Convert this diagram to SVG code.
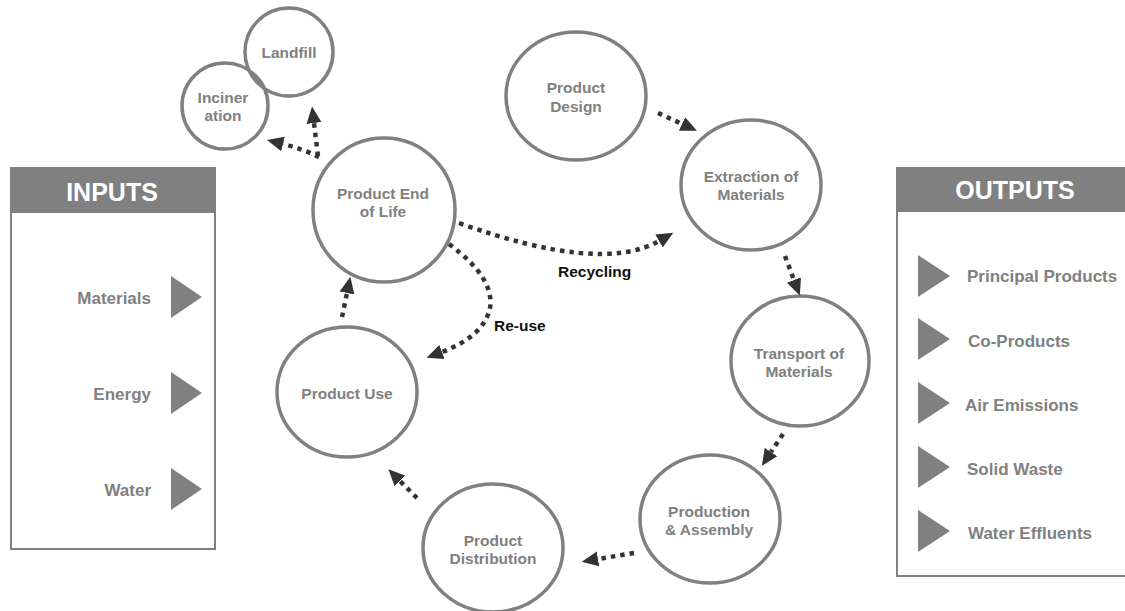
<svg xmlns="http://www.w3.org/2000/svg" width="1125" height="611" viewBox="0 0 1125 611">
<style>
.node ellipse{fill:#fff;stroke:#808080;stroke-width:3.5}
.node ellipse.open{fill:none}
.nt{font-family:"Liberation Sans",Arial,sans-serif;font-weight:bold;font-size:15.5px;fill:#808080;text-anchor:middle}
.lbl{font-family:"Liberation Sans",Arial,sans-serif;font-weight:bold;font-size:17px;fill:#808080}
.hdr{font-family:"Liberation Sans",Arial,sans-serif;font-weight:bold;font-size:25px;fill:#fff;text-anchor:middle}
.cl{font-family:"Liberation Sans",Arial,sans-serif;font-weight:bold;font-size:15.5px;fill:#111}
.tri{fill:#808080}
#connectors path{fill:none;stroke:#333;stroke-width:4.5;stroke-dasharray:4.5 5;marker-end:url(#ah)}
</style>
<defs>
<marker id="ah" markerUnits="userSpaceOnUse" markerWidth="17" markerHeight="16" refX="0" refY="8" orient="auto" viewBox="0 0 17 16">
<path d="M0,0.5 L16.5,8 L0,15.5 z" fill="#333"/>
</marker>
</defs>
<rect width="1125" height="611" fill="#fff"/>

<g id="inputs">
<rect x="11" y="168" width="204" height="381" fill="#fff" stroke="#808080" stroke-width="2"/>
<rect x="10" y="168" width="206" height="45" fill="#808080"/>
<text class="hdr" x="112" y="201">INPUTS</text>
<text class="lbl" x="151" y="304" text-anchor="end">Materials</text>
<polygon class="tri" points="171,276 202,297 171,318"/>
<text class="lbl" x="151" y="400" text-anchor="end">Energy</text>
<polygon class="tri" points="171,372 202,393 171,414"/>
<text class="lbl" x="151" y="496" text-anchor="end">Water</text>
<polygon class="tri" points="171,468 202,489 171,510"/>
</g>

<g id="outputs">
<rect x="897" y="168" width="240" height="408" fill="#fff" stroke="#808080" stroke-width="2"/>
<rect x="896" y="168" width="240" height="44" fill="#808080"/>
<text class="hdr" x="1015" y="199">OUTPUTS</text>
<polygon class="tri" points="918,255 950,276 918,297"/>
<text class="lbl" x="967" y="282">Principal Products</text>
<polygon class="tri" points="918,318 950,339 918,360"/>
<text class="lbl" x="968" y="347">Co-Products</text>
<polygon class="tri" points="918,382 950,403 918,424"/>
<text class="lbl" x="965" y="411">Air Emissions</text>
<polygon class="tri" points="918,446 950,467 918,488"/>
<text class="lbl" x="967" y="475">Solid Waste</text>
<polygon class="tri" points="918,510 950,531 918,552"/>
<text class="lbl" x="968" y="539">Water Effluents</text>
</g>

<g id="landfill" class="node">
<ellipse class="open" cx="289" cy="52" rx="44" ry="44"/>
<text class="nt" x="289" y="58">Landfill</text>
</g>
<g id="incineration" class="node">
<ellipse class="open" cx="225" cy="106" rx="43" ry="43"/>
<text class="nt" x="223" y="103">Inciner</text>
<text class="nt" x="223" y="121">ation</text>
</g>
<g id="endoflife" class="node">
<ellipse cx="384" cy="210" rx="71" ry="72"/>
<text class="nt" x="383" y="199">Product End</text>
<text class="nt" x="383" y="217">of Life</text>
</g>
<g id="design" class="node">
<ellipse cx="576" cy="96" rx="70" ry="64"/>
<text class="nt" x="576" y="93">Product</text>
<text class="nt" x="576" y="112">Design</text>
</g>
<g id="extraction" class="node">
<ellipse cx="751" cy="185" rx="70" ry="65"/>
<text class="nt" x="751" y="182">Extraction of</text>
<text class="nt" x="751" y="200">Materials</text>
</g>
<g id="transport" class="node">
<ellipse cx="800" cy="361" rx="69" ry="65"/>
<text class="nt" x="799" y="359">Transport of</text>
<text class="nt" x="799" y="377">Materials</text>
</g>
<g id="production" class="node">
<ellipse cx="710" cy="519" rx="70" ry="64"/>
<text class="nt" x="709" y="517">Production</text>
<text class="nt" x="709" y="535">&amp; Assembly</text>
</g>
<g id="distribution" class="node">
<ellipse cx="493" cy="548" rx="70" ry="64"/>
<text class="nt" x="493" y="546">Product</text>
<text class="nt" x="493" y="564">Distribution</text>
</g>
<g id="use" class="node">
<ellipse cx="347" cy="392" rx="70" ry="65"/>
<text class="nt" x="347" y="399">Product Use</text>
</g>

<g id="connectors">
<path d="M658,113 L682,124"/>
<path d="M785,256 L794,280"/>
<path d="M783,434 L771,452"/>
<path d="M634,553 L598,559"/>
<path d="M417,498 L400,481"/>
<path d="M342,317 L347,293"/>
<path d="M319,157 Q303,149 283,144"/>
<path d="M318,156 L314,123"/>
<path d="M459,223 Q601,274 659,241"/>
<path d="M449,244 Q495,278 490,308 Q484,336 442,352"/>
<text class="cl" x="558" y="277">Recycling</text>
<text class="cl" x="494" y="331">Re-use</text>
</g>
</svg>
